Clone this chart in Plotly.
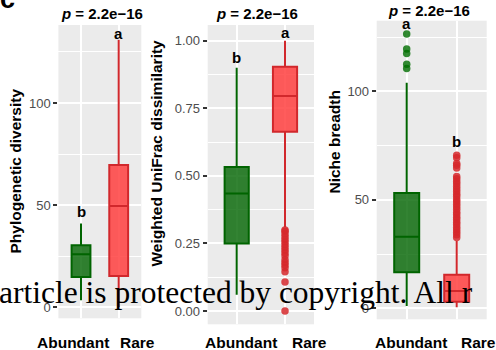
import plotly.graph_objects as go

W, H = 496, 350

categories = ["Abundant", "Rare"]
p_title = "<i>p</i> = 2.2e\u221216"

# Panel 1: Phylogenetic diversity (box statistics per category)
pd_q1 = [14.8, 15.3]
pd_median = [26.0, 49.6]
pd_q3 = [30.4, 69.6]
pd_low = [3.4, 0.0]
pd_high = [41.0, 131.0]
pd_letters = ["b", "a"]
pd_letter_y = [47.0, 134.0]

# Panel 2: Weighted UniFrac dissimilarity
wu_q1 = [0.25, 0.663]
wu_median = [0.435, 0.795]
wu_q3 = [0.533, 0.904]
wu_low = [0.06, 0.31]
wu_high = [0.90, 1.00]
wu_out_rare = [0.30, 0.295, 0.285, 0.275, 0.265, 0.255, 0.245, 0.235, 0.225,
               0.215, 0.205, 0.19, 0.18, 0.17, 0.16, 0.145, 0.107, 0.0]
wu_letters = ["b", "a"]
wu_letter_y = [0.936, 1.03]

# Panel 3: Niche breadth
nb_q1 = [16.6, 3.0]
nb_median = [33.0, 8.0]
nb_q3 = [53.1, 15.4]
nb_low = [1.0, 0.5]
nb_high = [104.0, 31.0]
nb_out_abund = [110.5, 112.5, 117.5, 119.5, 126.5]
nb_out_rare = [70.6, 69.4, 66.8, 65.9, 64.7, 60.8, 59.7, 58.5, 57.4, 56.1, 55.0,
               53.8, 52.6, 51.5, 50.2, 49.1, 47.9, 46.8, 45.6, 44.3, 43.2, 42.0,
               40.9, 39.7, 38.6, 37.3, 36.2, 35.0, 33.9, 32.6]
nb_letters = ["a", "b"]
nb_letter_y = [131.5, 77.0]

line_cols = ["#006400", "#D1282C"]
fill_cols = ["rgba(0,100,0,0.8)", "rgba(255,64,64,0.85)"]
pt_cols = ["rgba(0,110,0,0.8)", "rgba(214,40,44,0.85)"]

FONT = "Liberation Sans, Arial, sans-serif"


def px_x(px):
    return px / W


def px_y(py):
    return 1 - py / H


fig = go.Figure()

panels = [
    dict(q1=pd_q1, med=pd_median, q3=pd_q3, lo=pd_low, hi=pd_high,
         outs={}, letters=pd_letters, ly=pd_letter_y),
    dict(q1=wu_q1, med=wu_median, q3=wu_q3, lo=wu_low, hi=wu_high,
         outs={1: wu_out_rare}, letters=wu_letters, ly=wu_letter_y),
    dict(q1=nb_q1, med=nb_median, q3=nb_q3, lo=nb_low, hi=nb_high,
         outs={0: nb_out_abund, 1: nb_out_rare}, letters=nb_letters, ly=nb_letter_y),
]

annotations = []
for k, p in enumerate(panels):
    xa = "x" if k == 0 else f"x{k+1}"
    ya = "y" if k == 0 else f"y{k+1}"
    for i, cat in enumerate(categories):
        fig.add_trace(go.Box(
            x=[cat], q1=[p["q1"][i]], median=[p["med"][i]], q3=[p["q3"][i]],
            lowerfence=[p["lo"][i]], upperfence=[p["hi"][i]],
            width=0.5, whiskerwidth=0, boxpoints=False,
            fillcolor=fill_cols[i], line=dict(color=line_cols[i], width=2),
            xaxis=xa, yaxis=ya, showlegend=False, hoverinfo="skip"))
        if i in p["outs"]:
            vals = p["outs"][i]
            fig.add_trace(go.Scatter(
                x=[cat] * len(vals), y=vals, mode="markers",
                marker=dict(color=pt_cols[i], size=7.5, line=dict(width=0)),
                xaxis=xa, yaxis=ya, showlegend=False, hoverinfo="skip"))
        annotations.append(dict(
            x=cat, y=p["ly"][i], xref=xa, yref=ya, text=f"<b>{p['letters'][i]}</b>",
            showarrow=False, font=dict(family=FONT, size=15, color="black"),
            xanchor="center", yanchor="middle"))

# panel geometry in pixels: (left, right, top, bottom)
geo = [(58.4, 141.3, 25.0, 318.3), (207.7, 314.0, 25.0, 324.3), (376.7, 486.7, 20.7, 319.3)]
yranges = [[-5.4, 138.2], [-0.049, 1.058], [-5.1, 132.6]]
ydticks = [50, 0.25, 50]
yminor = [25, 0.125, 25]
yfmt = ["", ".2f", ""]

layout = dict(width=W, height=H, margin=dict(l=0, r=0, t=0, b=0),
              paper_bgcolor="white", plot_bgcolor="#EBEBEB", showlegend=False,
              boxmode="overlay")

for k, (l, r, t, b) in enumerate(geo):
    xs = "xaxis" if k == 0 else f"xaxis{k+1}"
    ys = "yaxis" if k == 0 else f"yaxis{k+1}"
    xa = "x" if k == 0 else f"x{k+1}"
    ya = "y" if k == 0 else f"y{k+1}"
    layout[xs] = dict(domain=[px_x(l), px_x(r)], anchor=ya, type="category",
                      categoryorder="array", categoryarray=categories,
                      range=[-0.6, 1.6], showgrid=True, gridcolor="white", gridwidth=2,
                      showticklabels=False, ticks="", zeroline=False, showline=False)
    layout[ys] = dict(domain=[px_y(b), px_y(t)], anchor=xa, range=yranges[k],
                      tick0=0, dtick=ydticks[k], tickformat=yfmt[k],
                      ticks="outside", ticklen=4, tickwidth=2, tickcolor="#333333",
                      tickfont=dict(family=FONT, size=13, color="#4D4D4D"),
                      showgrid=True, gridcolor="white", gridwidth=2,
                      minor=dict(dtick=yminor[k], tick0=0, showgrid=True,
                                 gridcolor="white", gridwidth=1, ticks=""),
                      zeroline=False, showline=False)

# p-value titles
for cx, cy in [(102, 13), (256.5, 13), (429, 10)]:
    annotations.append(dict(x=px_x(cx), y=px_y(cy), xref="paper", yref="paper",
                            text=f"<b>{p_title}</b>", showarrow=False,
                            font=dict(family=FONT, size=15, color="black"),
                            xanchor="center", yanchor="middle"))

# y-axis titles
for txt, cx, cy in [("Phylogenetic diversity", 15, 171.5),
                    ("Weighted UniFrac dissimilarity", 155.5, 153),
                    ("Niche breadth", 333.5, 142)]:
    annotations.append(dict(x=px_x(cx), y=px_y(cy), xref="paper", yref="paper",
                            text=f"<b>{txt}</b>", showarrow=False, textangle=-90,
                            font=dict(family=FONT, size=15.5, color="black"),
                            xanchor="center", yanchor="middle"))

# x category labels
for txt, cx in [("Abundant", 72.5), ("Rare", 137.5), ("Abundant", 241), ("Rare", 309),
                ("Abundant", 410.5), ("Rare", 478)]:
    annotations.append(dict(x=px_x(cx), y=px_y(342), xref="paper", yref="paper",
                            text=f"<b>{txt}</b>", showarrow=False,
                            font=dict(family=FONT, size=15.5, color="black"),
                            xanchor="center", yanchor="middle"))

# panel letter (cut at top)
annotations.append(dict(x=px_x(7.5), y=px_y(-1.5), xref="paper", yref="paper",
                        text="<b>c</b>", showarrow=False,
                        font=dict(family=FONT, size=27, color="black"),
                        xanchor="center", yanchor="middle"))

# watermark text overlay
annotations.append(dict(x=px_x(-3), y=px_y(292), xref="paper", yref="paper",
                        text="article is protected by copyright. All r", showarrow=False,
                        font=dict(family="Liberation Serif, serif", size=31.5, color="black"),
                        xanchor="left", yanchor="middle"))

layout["annotations"] = annotations
fig.update_layout(**layout)
fig.write_html("out.html", config={"displayModeBar": False},
               post_script="document.body.style.margin='0';")
